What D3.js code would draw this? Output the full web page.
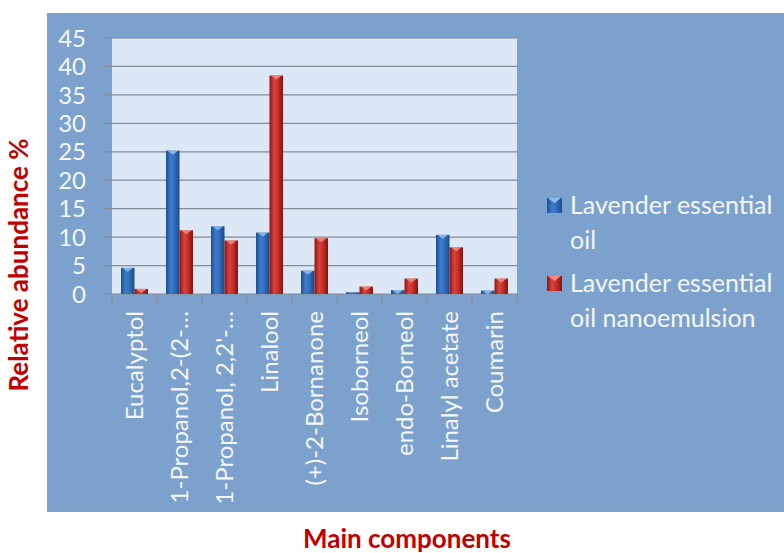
<!DOCTYPE html>
<html><head><meta charset="utf-8">
<script src="https://cdn.jsdelivr.net/npm/d3@7"></script>
<style>body{margin:0;background:#fff}svg{display:block}</style>
</head><body>
<svg id="c" width="784" height="553"></svg>
<script>
const categories = ["Eucalyptol","1-Propanol,2-(2-…","1-Propanol, 2,2'-…","Linalool","(+)-2-Bornanone","Isoborneol","endo-Borneol","Linalyl acetate","Coumarin"];
const seriesNames = ["Lavender essential oil","Lavender essential oil nanoemulsion"];
const oilValues = [4.6,25.2,11.9,10.8,4.1,0.3,0.7,10.4,0.6];
const nanoValues = [0.9,11.2,9.4,38.4,9.8,1.3,2.7,8.2,2.7];
const yTicks = [0,5,10,15,20,25,30,35,40,45];

const svg = d3.select("#c");
const font = "Lato, 'Open Sans', sans-serif";
const P = {l:112, r:517, t:38, b:294};

const defs = svg.append("defs");
function grad(id, stops){
  const g = defs.append("linearGradient").attr("id",id).attr("x1","0").attr("x2","1").attr("y1","0").attr("y2","0");
  stops.forEach(s=>g.append("stop").attr("offset",s[0]).attr("stop-color",s[1]));
}
grad("gBlue",[[0,"#1d4f92"],[0.35,"#3f7ccc"],[0.6,"#3470be"],[1,"#1c4a88"]]);
grad("gRed",[[0,"#8e1414"],[0.35,"#d9433b"],[0.6,"#c83028"],[1,"#861212"]]);

// panel
svg.append("rect").attr("x",47).attr("y",13).attr("width",737).attr("height",499).attr("fill","#7da1cd");
// plot area
svg.append("rect").attr("x",P.l).attr("y",P.t).attr("width",P.r-P.l).attr("height",P.b-P.t).attr("fill","#dce8f5");

const x = d3.scaleBand().domain(categories).range([P.l,P.r]).paddingInner(0).paddingOuter(0);
const y = d3.scaleLinear().domain([0,45]).range([P.b,P.t]);

// gridlines + y ticks
svg.append("g").selectAll("line").data(yTicks).join("line")
  .attr("x1",P.l-9).attr("x2",P.r).attr("y1",d=>y(d)).attr("y2",d=>y(d))
  .attr("stroke","#858c94").attr("stroke-width",1.2);

// y labels
svg.append("g").selectAll("text").data(yTicks).join("text")
  .attr("x",86).attr("y",d=>y(d)).attr("dy","0.36em").attr("text-anchor","end")
  .attr("fill","#f4f7fb").attr("font-family",font).attr("font-size",24).text(d=>d);

// x axis ticks
const bounds = categories.map(c=>x(c)).concat([P.r]);
svg.append("g").selectAll("line").data(bounds).join("line")
  .attr("x1",d=>d).attr("x2",d=>d).attr("y1",P.b).attr("y2",P.b+9)
  .attr("stroke","#858c94").attr("stroke-width",1.2);

// bars
const bw = 13.5;
const series = [oilValues, nanoValues];
const fills = ["url(#gBlue)","url(#gRed)"];
const tops = ["#8cbcef","#f28a80"];
series.forEach((vals,si)=>{
  const g = svg.append("g");
  const data = categories.map((c,i)=>({c, v:vals[i]}));
  g.selectAll("rect").data(data).join("rect")
    .attr("x",d=>x(d.c)+x.bandwidth()/2 - bw + si*bw)
    .attr("y",d=>y(d.v)).attr("width",bw).attr("height",d=>y(0)-y(d.v))
    .attr("fill",fills[si]);
  g.selectAll("path").data(data.filter(d=>y(0)-y(d.v)>3)).join("path")
    .attr("d",d=>{
      const x0 = x(d.c)+x.bandwidth()/2 - bw + si*bw, y0 = y(d.v);
      return `M${x0+1.5},${y0}L${x0+bw-1.5},${y0}L${x0+bw/2},${y0+4}Z`;
    })
    .attr("fill",tops[si]).attr("opacity",0.9);
});

// x labels
svg.append("g").selectAll("text").data(categories).join("text")
  .attr("transform",c=>`translate(${x(c)+x.bandwidth()/2},311) rotate(-90)`)
  .attr("dy","0.36em").attr("text-anchor","end")
  .attr("fill","#f4f7fb").attr("font-family",font).attr("font-size",24).text(c=>c);

// legend
const leg = [
  {name:seriesNames[0], lines:["Lavender essential","oil"], fill:"url(#gBlue)", top:tops[0], y:214},
  {name:seriesNames[1], lines:["Lavender essential","oil nanoemulsion"], fill:"url(#gRed)", top:tops[1], y:292}
];
leg.forEach(l=>{
  svg.append("rect").attr("x",547).attr("y",l.y-16).attr("width",15).attr("height",15).attr("fill",l.fill);
  svg.append("path").attr("d",`M548,${l.y-16}L561,${l.y-16}L554.5,${l.y-11}Z`).attr("fill",l.top);
  l.lines.forEach((t,i)=>svg.append("text").attr("x",570).attr("y",l.y+i*35)
    .attr("fill","#f4f7fb").attr("font-family",font).attr("font-size",25).text(t));
});

// axis titles
svg.append("text").attr("transform","translate(28,265) rotate(-90)").attr("text-anchor","middle")
  .attr("fill","#c00000").attr("font-family",font).attr("font-weight","bold").attr("font-size",26)
  .text("Relative abundance %");
svg.append("text").attr("x",407).attr("y",548).attr("text-anchor","middle")
  .attr("fill","#c00000").attr("font-family",font).attr("font-weight","bold").attr("font-size",26)
  .text("Main components");
</script>
</body></html>
